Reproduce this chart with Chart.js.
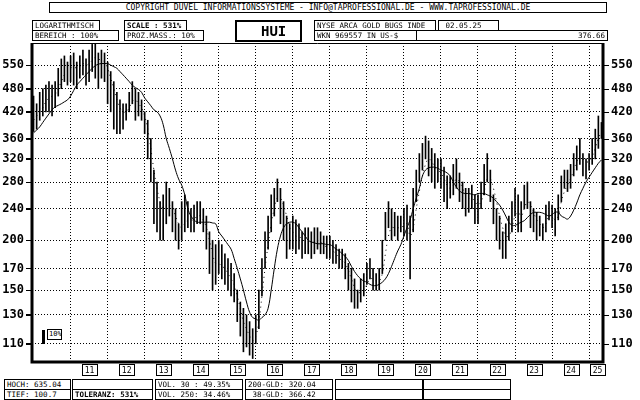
<!DOCTYPE html>
<html><head><meta charset="utf-8">
<script src="https://cdn.jsdelivr.net/npm/chart.js@4"></script>
<style>
body{margin:0;background:#fff;width:640px;height:400px;overflow:hidden;font-family:"DejaVu Sans Mono",monospace}
#wrap{position:relative;width:640px;height:400px}
canvas{position:absolute;left:0;top:0}
.b{position:absolute;border:1px solid #000;font-size:7.5px;line-height:9px;padding:0 2px;box-sizing:border-box;height:11px;white-space:nowrap;overflow:hidden;background:#fff}
.bd{font-weight:bold}
</style></head><body><div id="wrap"><canvas id="c" width="640" height="400"></canvas>
<div class="b" style="left:49px;top:2px;width:558px;text-align:center;font-size:8px">COPYRIGHT  DÜVEL INFORMATIONSSYSTEME - INFO@TAPROFESSIONAL.DE - WWW.TAPROFESSIONAL.DE</div>
<div class="b" style="left:32px;top:20px;width:68px">LOGARITHMISCH</div>
<div class="b" style="left:32px;top:30px;width:87px">BEREICH :   100%</div>
<div class="b bd" style="left:124px;top:20px;width:63px">SCALE : 531%</div>
<div class="b" style="left:124px;top:30px;width:80px">PROZ.MASS.: 10%</div>
<div class="b" style="left:235px;top:20px;width:67px;height:22px;border-width:2px;font-size:14px;line-height:18px;font-weight:bold;padding-left:24px">HUI</div>
<div class="b" style="left:314px;top:20px;width:122px">NYSE ARCA GOLD BUGS INDE</div>
<div class="b" style="left:438px;top:20px;width:61px">&nbsp;02.05.25</div>
<div class="b" style="left:314px;top:30px;width:105px">WKN 969557   IN US-$</div>
<div class="b" style="left:416px;top:30px;width:192px;text-align:right">376.66</div>
<div class="b" style="left:47px;top:329px;width:15px;font-size:7px;padding:0 1px">10%</div>
<div style="position:absolute;left:42px;top:330px;width:3px;height:14px;background:#000"></div>
<div class="b" style="left:4px;top:379px;width:67px">HOCH: 635.04</div>
<div class="b" style="left:4px;top:389px;width:67px">TIEF: 100.7</div>
<div class="b" style="left:72px;top:379px;width:81px"></div>
<div class="b bd" style="left:72px;top:389px;width:81px">TOLERANZ: 531%</div>
<div class="b" style="left:155px;top:379px;width:88px">VOL. 30 : 49.35%</div>
<div class="b" style="left:155px;top:389px;width:88px">VOL. 250: 34.46%</div>
<div class="b" style="left:245px;top:379px;width:88px">200-GLD: 320.04</div>
<div class="b" style="left:245px;top:389px;width:88px">&nbsp;38-GLD: 366.42</div>
<div class="b" style="left:335px;top:379px;width:88px"></div>
<div class="b" style="left:335px;top:389px;width:88px"></div>
<div class="b" style="left:423px;top:379px;width:88px"></div>
<div class="b" style="left:423px;top:389px;width:88px"></div>
</div>
<script>
const years=[2010,2011,2012,2013,2014,2015,2016,2017,2018,2019,2020,2021,2022,2023,2024,2025];
const highs=[
460,440,470,480,490,500,490,500,540,570,580,560,
580,590,560,580,600,570,600,620,635,590,600,590,
560,530,500,470,450,440,440,470,500,480,470,450,
420,400,360,300,280,250,260,280,270,250,240,220,
250,260,250,240,245,250,250,240,230,210,200,195,
200,195,185,180,175,165,150,140,135,130,125,120,
130,150,180,210,230,260,270,285,270,250,230,220,
230,225,220,210,215,215,210,215,215,210,205,205,
205,200,195,190,190,185,175,170,160,150,160,165,
175,180,170,165,170,200,235,250,240,235,230,230,
240,245,230,270,300,330,350,365,355,340,330,320,
320,305,290,290,310,320,295,280,270,270,275,260,
260,280,310,330,300,260,240,230,210,220,230,250,
270,260,250,275,280,250,240,235,230,220,245,250,
245,240,260,290,300,300,310,330,345,360,330,320,
330,360,380,410,395];
const lows=[
375,380,400,410,420,420,410,430,460,480,500,490,
500,490,480,510,520,490,500,530,510,480,510,500,
440,420,380,370,370,380,400,420,440,400,410,400,
370,320,280,220,210,200,200,220,230,210,200,190,
200,210,215,210,210,220,220,210,190,165,150,155,
165,160,155,150,145,140,125,115,105,108,103,101,
110,120,145,170,190,210,230,250,220,200,180,190,
190,185,190,180,185,185,180,185,190,185,185,180,
180,175,175,170,170,160,150,140,135,135,140,145,
155,160,150,150,150,165,200,215,200,205,200,210,
205,200,160,210,250,280,300,320,290,280,270,280,
270,250,240,255,260,270,250,240,230,235,240,220,
220,240,260,280,250,220,200,190,180,180,200,210,
230,210,210,240,240,215,210,200,205,200,210,225,
215,205,225,250,270,265,270,290,300,310,290,285,
300,310,320,340,360];
const ma38=[
400,410,420,430,445,455,460,465,480,500,520,530,
540,545,540,545,555,550,555,565,575,570,565,560,
540,510,480,450,430,420,420,430,445,450,440,430,
410,380,340,300,270,250,240,240,245,240,230,220,
215,220,225,225,225,230,230,225,215,200,185,175,
175,172,170,165,160,155,145,135,125,120,115,112,
115,125,145,170,195,220,240,255,255,245,230,215,
210,205,205,200,200,200,198,198,200,198,195,192,
190,188,185,180,178,175,168,160,152,148,148,150,
155,160,160,158,158,165,185,205,215,215,215,215,
218,220,205,215,240,265,290,310,320,315,305,300,
295,285,275,270,275,285,280,270,260,255,255,250,
245,250,265,285,285,270,250,230,215,205,205,215,
230,235,230,240,250,245,235,225,220,215,220,230,
230,225,230,250,265,275,285,300,315,325,320,315,
315,325,340,360,375];
const ma200=[
372,378,385,395,405,415,425,432,436,440,445,450,
460,475,490,500,510,520,530,540,548,553,555,555,
555,550,545,540,530,520,510,500,490,483,478,470,
455,445,435,425,420,410,390,360,340,320,300,285,
275,260,240,230,225,222,222,222,222,222,221,220,
210,205,200,195,190,180,170,160,150,140,132,128,
127,126,128,130,135,150,170,190,205,215,220,222,
222,220,215,210,205,200,198,197,196,196,196,195,
195,193,190,188,185,182,178,172,167,163,160,158,
157,155,154,154,155,157,160,165,172,180,188,195,
205,215,225,240,255,270,290,300,304,305,305,303,
300,298,295,290,280,272,266,263,262,262,261,260,
262,262,262,260,258,255,250,245,238,230,222,218,
218,220,222,224,228,232,235,235,235,234,232,230,
232,235,235,230,228,226,230,238,248,260,270,280,
288,296,304,312,318];
const yTicks=[110,130,150,170,200,240,280,320,360,420,480,550];
const labels=[];years.forEach(y=>{for(let m=1;m<=12;m++){if(labels.length<highs.length)labels.push(y+'-'+m);}});
const ranges=highs.map((h,i)=>[lows[i],h]);
const font={family:'"DejaVu Sans Mono", monospace',size:12,weight:'bold'};
function yax(pos,w){return{type:'logarithmic',position:pos,min:99,max:625,
  afterBuildTicks:a=>{a.ticks=yTicks.map(v=>({value:v}));},
  afterFit:a=>{a.width=w;},
  ticks:{color:'#000',font,padding:2,callback:v=>String(v),autoSkip:false},
  border:{display:false,dash:[1,2]},
  grid:{display:pos==='left',color:'#000',lineWidth:1,drawTicks:true,tickLength:6,tickBorderDash:[]}};}
const frame={id:'frame',afterDraw(c){const a=c.chartArea,x=c.ctx;x.save();x.strokeStyle='#000';
  x.lineWidth=3;x.beginPath();x.moveTo(a.left,a.top);x.lineTo(a.left,a.bottom);x.lineTo(a.right,a.bottom);x.lineTo(a.right,a.top);x.stroke();
  x.lineWidth=1;x.beginPath();x.moveTo(a.left,a.top+0.5);x.lineTo(a.right,a.top+0.5);x.stroke();
  const ys=c.scales.yR;const yl=c.scales.y;
  yTicks.forEach(v=>{const p=Math.round(ys.getPixelForValue(v))+0.5;x.beginPath();x.moveTo(a.right,p);x.lineTo(a.right+6,p);x.stroke();
    x.beginPath();x.moveTo(a.left-6,p);x.lineTo(a.left,p);x.stroke();});
  const xs=c.scales.x;x.font='8px "DejaVu Sans Mono", monospace';x.textAlign='center';x.textBaseline='middle';x.fillStyle='#000';
  years.forEach(y=>{if(y<2011)return;const i=(y-2010)*12+6;
    const cx=y===2025?597:xs.getPixelForValue(i);x.strokeRect(Math.round(cx-7)+0.5,364.5,15,11);x.fillText(String(y-2000),cx+0.5,370.5);});
  x.restore();}};
new Chart(document.getElementById('c'),{
 data:{labels,datasets:[
  {type:'bar',data:ranges,backgroundColor:'#000',barThickness:1,grouped:false,yAxisID:'y',order:3},
  {type:'line',data:ma200,borderColor:'#000',borderWidth:1,pointRadius:0,tension:0.4,yAxisID:'y',order:1},
  {type:'line',data:ma38,borderColor:'#000',borderWidth:1,borderDash:[1,4],pointRadius:0,tension:0.4,yAxisID:'y',order:2}]},
 options:{responsive:false,animation:false,devicePixelRatio:1,
  layout:{padding:{top:43,left:0,right:0,bottom:0}},
  plugins:{legend:{display:false},tooltip:{enabled:false}},
  scales:{
   x:{type:'category',offset:true,afterFit:a=>{a.height=38;},ticks:{display:false},border:{display:false,dash:[1,2]},
      grid:{offset:false,drawTicks:false,color:c=>(c.index%12===0&&c.index>0)?'#000':'rgba(0,0,0,0)'}},
   y:yax('left',32),
   yR:yax('right',37)}},
 plugins:[frame]});
</script></body></html>
